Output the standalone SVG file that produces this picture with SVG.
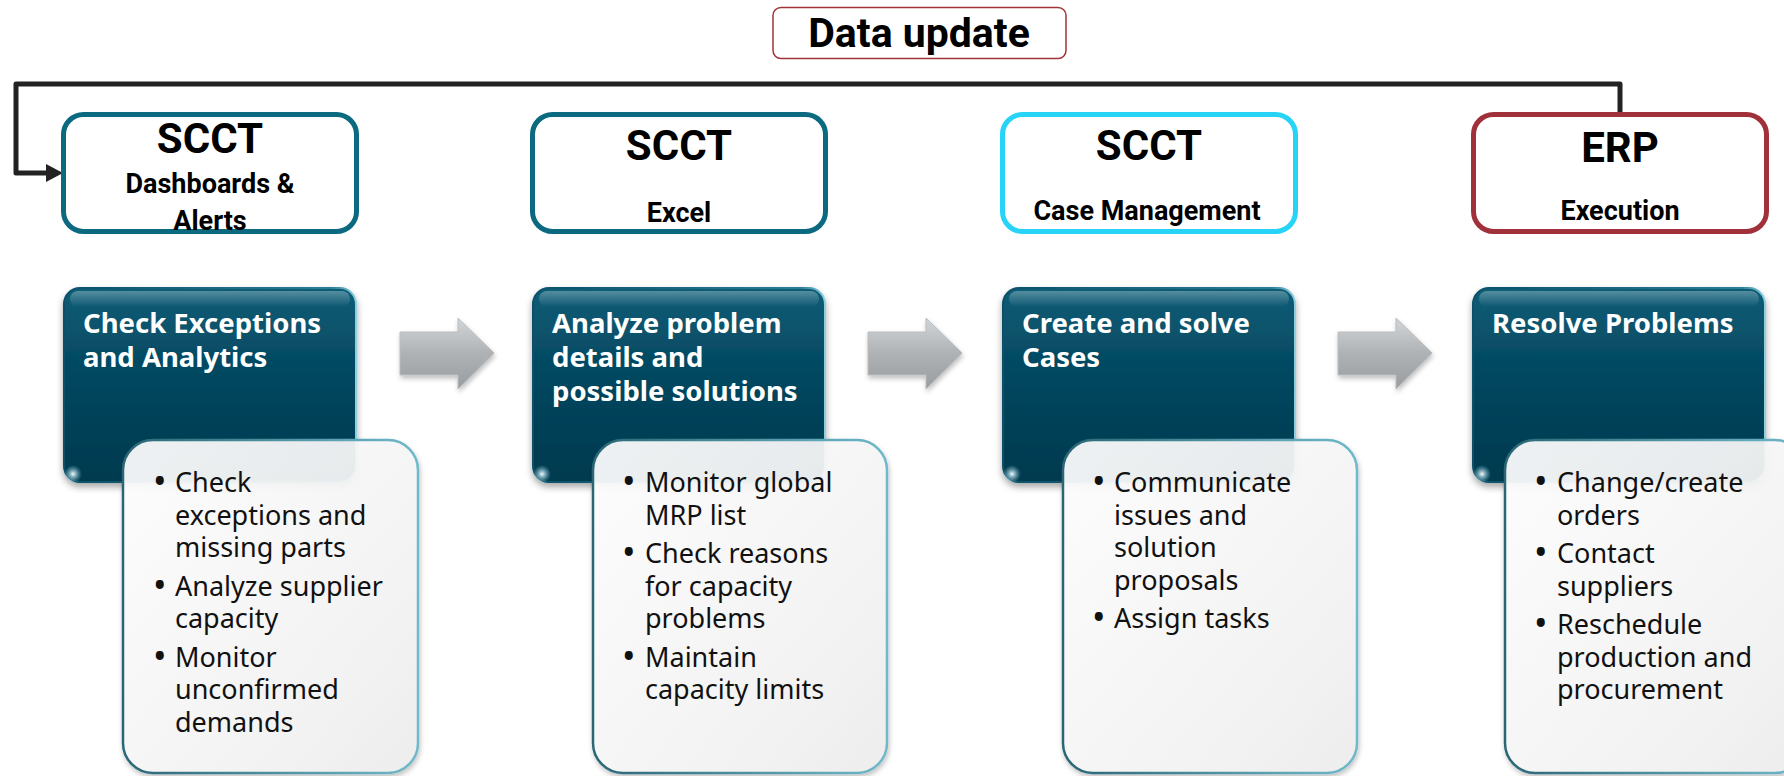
<svg xmlns="http://www.w3.org/2000/svg" width="1784" height="776" viewBox="0 0 1784 776">
<defs>
<style>
.hdr{fill:#fff;stroke-width:5}
.h1{font-family:Roboto,"Liberation Sans",sans-serif;font-weight:700;font-size:42px;fill:#000;text-anchor:middle}
.h2{font-family:Roboto,"Liberation Sans",sans-serif;font-weight:700;font-size:27px;fill:#000;text-anchor:middle}
.ttl{font-family:"Noto Sans","Liberation Sans",sans-serif;font-weight:700;font-size:27.5px;fill:#fff}
.bul{font-family:"Noto Sans","Liberation Sans",sans-serif;font-size:27px;fill:#111}
.dot{font-size:36px}
.dk{fill:url(#dk);stroke:url(#dkEdge);stroke-width:2}
.lt{fill:url(#lt);fill-opacity:0.92;stroke:url(#ltEdge);stroke-width:2.5}
.gl{fill:url(#gloss)}
.arr{fill:url(#ga);stroke:#B9BCBE;stroke-width:1}
.conn{fill:none;stroke:#222;stroke-width:5;stroke-linejoin:round}
</style>
<linearGradient id="dk" x1="0" y1="0" x2="0" y2="1">
<stop offset="0" stop-color="#0F5D77"/>
<stop offset="0.45" stop-color="#03475F"/>
<stop offset="1" stop-color="#013A4F"/>
</linearGradient>
<linearGradient id="dkEdge" x1="0" y1="0" x2="1" y2="0">
<stop offset="0" stop-color="#0B5068"/>
<stop offset="0.92" stop-color="#2B7E95"/>
<stop offset="1" stop-color="#8ED0E0"/>
</linearGradient>
<linearGradient id="gloss" x1="0" y1="0" x2="0" y2="1">
<stop offset="0" stop-color="#fff" stop-opacity="0.3"/>
<stop offset="1" stop-color="#fff" stop-opacity="0"/>
</linearGradient>
<radialGradient id="spot">
<stop offset="0" stop-color="#F0FBFF" stop-opacity="1"/>
<stop offset="1" stop-color="#7FC6DA" stop-opacity="0"/>
</radialGradient>
<linearGradient id="lt" x1="0" y1="0" x2="1" y2="1">
<stop offset="0" stop-color="#FFFFFF"/>
<stop offset="1" stop-color="#EFEFEF"/>
</linearGradient>
<linearGradient id="ltEdge" x1="0" y1="0" x2="1" y2="0">
<stop offset="0" stop-color="#2A6676"/>
<stop offset="1" stop-color="#6FB9CA"/>
</linearGradient>
<linearGradient id="ga" x1="0" y1="0" x2="0" y2="1">
<stop offset="0" stop-color="#D3D6D8"/>
<stop offset="0.5" stop-color="#AFB2B4"/>
<stop offset="1" stop-color="#9A9DA0"/>
</linearGradient>
<filter id="sh" x="-10%" y="-10%" width="120%" height="125%">
<feDropShadow dx="0" dy="4" stdDeviation="3.5" flood-color="#000" flood-opacity="0.35"/>
</filter>
<filter id="sh2" x="-10%" y="-10%" width="120%" height="125%">
<feDropShadow dx="1" dy="3" stdDeviation="2.5" flood-color="#000" flood-opacity="0.25"/>
</filter>
<marker id="ah" markerUnits="userSpaceOnUse" markerWidth="18" markerHeight="18" refX="0" refY="9" orient="auto">
<path d="M0,0 L17,9 L0,18 z" fill="#222"/>
</marker>
</defs>

<g id="data-update">
<rect x="773" y="7.5" width="293" height="51" rx="8" fill="#fff" stroke="#A0323A" stroke-width="1.5"/>
<text x="919" y="47" font-family="Roboto,'Liberation Sans',sans-serif" font-weight="700" font-size="41" text-anchor="middle" fill="#000">Data update</text>
</g>

<g id="connectors">
<path class="conn" d="M1620,113 V84 H16 V173 H46" marker-end="url(#ah)"/>
<polygon class="arr" filter="url(#sh2)" points="400,332 458,332 458,318 494,353 458,389 458,375 400,375"/>
<polygon class="arr" filter="url(#sh2)" points="868,332 926,332 926,318 962,353 926,389 926,375 868,375"/>
<polygon class="arr" filter="url(#sh2)" points="1338,332 1396,332 1396,318 1432,353 1396,389 1396,375 1338,375"/>
</g>

<g id="hdr1">
<rect class="hdr" x="63.5" y="114.5" width="293" height="117" rx="20" stroke="#0B6A80"/>
<text class="h1" x="210" y="153">SCCT</text>
<text class="h2" x="210" y="193">Dashboards &amp;</text>
<text class="h2" x="210" y="230">Alerts</text>
</g>
<g id="hdr2">
<rect class="hdr" x="532.5" y="114.5" width="293" height="117" rx="20" stroke="#0B6A80"/>
<text class="h1" x="679" y="160">SCCT</text>
<text class="h2" x="679" y="222">Excel</text>
</g>
<g id="hdr3">
<rect class="hdr" x="1002.5" y="114.5" width="293" height="117" rx="20" stroke="#27D4F7"/>
<text class="h1" x="1149" y="160">SCCT</text>
<text class="h2" x="1147" y="220">Case Management</text>
</g>
<g id="hdr4">
<rect class="hdr" x="1473.5" y="114.5" width="293" height="117" rx="20" stroke="#A0313B"/>
<text class="h1" x="1620" y="162">ERP</text>
<text class="h2" x="1620" y="220">Execution</text>
</g>

<g id="step1">
<rect class="dk" filter="url(#sh)" x="64" y="288" width="292" height="194" rx="16"/>
<rect class="gl" x="70" y="291" width="280" height="16" rx="8"/>
<circle cx="73" cy="474" r="9" fill="url(#spot)"/>
<text class="ttl" x="83" y="333">Check Exceptions</text>
<text class="ttl" x="83" y="367">and Analytics</text>
<rect class="lt" filter="url(#sh2)" x="123" y="440" width="295" height="333" rx="30"/>
<text class="bul"><tspan class="dot" x="153" y="494">•</tspan><tspan x="175" y="492">Check</tspan><tspan x="175" y="524.7">exceptions and</tspan><tspan x="175" y="557.4">missing parts</tspan><tspan class="dot" x="153" y="597.6">•</tspan><tspan x="175" y="595.6">Analyze supplier</tspan><tspan x="175" y="628.3">capacity</tspan><tspan class="dot" x="153" y="668.5">•</tspan><tspan x="175" y="666.5">Monitor</tspan><tspan x="175" y="699.2">unconfirmed</tspan><tspan x="175" y="731.9">demands</tspan></text>
</g>

<g id="step2">
<rect class="dk" filter="url(#sh)" x="533" y="288" width="292" height="194" rx="16"/>
<rect class="gl" x="539" y="291" width="280" height="16" rx="8"/>
<circle cx="542" cy="474" r="9" fill="url(#spot)"/>
<text class="ttl" x="552" y="333">Analyze problem</text>
<text class="ttl" x="552" y="367">details and</text>
<text class="ttl" x="552" y="401">possible solutions</text>
<rect class="lt" filter="url(#sh2)" x="593" y="440" width="294" height="333" rx="30"/>
<text class="bul"><tspan class="dot" x="622" y="494">•</tspan><tspan x="645" y="492">Monitor global</tspan><tspan x="645" y="524.7">MRP list</tspan><tspan class="dot" x="622" y="564.9">•</tspan><tspan x="645" y="562.9">Check reasons</tspan><tspan x="645" y="595.6">for capacity</tspan><tspan x="645" y="628.3">problems</tspan><tspan class="dot" x="622" y="668.5">•</tspan><tspan x="645" y="666.5">Maintain</tspan><tspan x="645" y="699.2">capacity limits</tspan></text>
</g>

<g id="step3">
<rect class="dk" filter="url(#sh)" x="1003" y="288" width="292" height="194" rx="16"/>
<rect class="gl" x="1009" y="291" width="280" height="16" rx="8"/>
<circle cx="1012" cy="474" r="9" fill="url(#spot)"/>
<text class="ttl" x="1022" y="333">Create and solve</text>
<text class="ttl" x="1022" y="367">Cases</text>
<rect class="lt" filter="url(#sh2)" x="1063" y="440" width="294" height="333" rx="30"/>
<text class="bul"><tspan class="dot" x="1092" y="494">•</tspan><tspan x="1114" y="492">Communicate</tspan><tspan x="1114" y="524.7">issues and</tspan><tspan x="1114" y="557.4">solution</tspan><tspan x="1114" y="590.1">proposals</tspan><tspan class="dot" x="1092" y="630.3">•</tspan><tspan x="1114" y="628.3">Assign tasks</tspan></text>
</g>

<g id="step4">
<rect class="dk" filter="url(#sh)" x="1473" y="288" width="292" height="194" rx="16"/>
<rect class="gl" x="1479" y="291" width="280" height="16" rx="8"/>
<circle cx="1482" cy="474" r="9" fill="url(#spot)"/>
<text class="ttl" x="1492" y="333">Resolve Problems</text>
<rect class="lt" filter="url(#sh2)" x="1505" y="440" width="300" height="333" rx="30"/>
<text class="bul"><tspan class="dot" x="1534" y="494">•</tspan><tspan x="1557" y="492">Change/create</tspan><tspan x="1557" y="524.7">orders</tspan><tspan class="dot" x="1534" y="564.9">•</tspan><tspan x="1557" y="562.9">Contact</tspan><tspan x="1557" y="595.6">suppliers</tspan><tspan class="dot" x="1534" y="635.8">•</tspan><tspan x="1557" y="633.8">Reschedule</tspan><tspan x="1557" y="666.5">production and</tspan><tspan x="1557" y="699.2">procurement</tspan></text>
</g>
</svg>
